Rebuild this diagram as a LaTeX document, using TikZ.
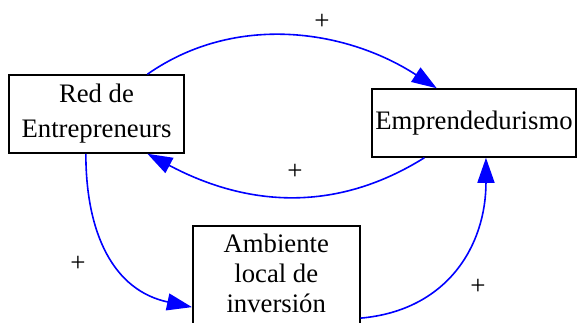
\documentclass[tikz,border=0pt]{standalone}
\usepackage{fontspec}
\setmainfont{Liberation Serif}
\usetikzlibrary{arrows.meta}
\tikzset{
  varbox/.style={draw, line width=1.5, inner sep=0, align=center},
  link/.style={draw=blue, line width=1.6, -{Triangle[length=25, width=17]}},
  sign/.style={inner sep=0, font=\fontsize{27}{30}\selectfont}
}
\begin{document}
\begin{tikzpicture}[x=1pt, y=-1pt]
  \useasboundingbox (0,0) rectangle (577,322);

  % Variables
  \node[varbox, minimum width=175, minimum height=78, font=\fontsize{26.7}{35}\selectfont] (red) at (96.5,114) {Red de\\Entrepreneurs};
  \node[varbox, minimum width=204, minimum height=68, font=\fontsize{26.7}{32}\selectfont] (emp) at (474,123) {Emprendedurismo};
  \node[varbox, minimum width=167, minimum height=130, anchor=north west, font=\fontsize{26.7}{30}\selectfont] (amb) at (192,225) {Ambiente\\local de\\inversión\rule[-35pt]{0pt}{0pt}};

  % Links
  \draw[link] (red.38) to[out=35, in=147, looseness=0.95] (emp.137);
  \draw[link] (emp.215) to[out=-148, in=-28] (red.322);
  \draw[link] (red.-105) to[out=-90, in=168, looseness=1.1] (amb.191);
  \draw[link] (amb.-18) to[out=5, in=-90, looseness=1.1] (emp.-71);

  % Polarities
  \node[sign] (s1) at (322,22) {+};
  \node[sign] (s2) at (295,172) {+};
  \node[sign] (s3) at (78,264) {+};
  \node[sign] (s4) at (478,287) {+};
\end{tikzpicture}
\end{document}
